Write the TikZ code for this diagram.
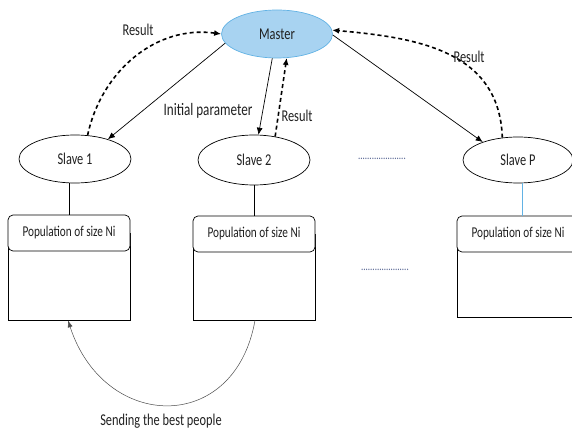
\documentclass[tikz,border=0pt]{standalone}
\usepackage{fontspec}
\setmainfont{Carlito}[FakeStretch=0.75]
\usetikzlibrary{arrows.meta,shapes.geometric}
\definecolor{masterfill}{HTML}{A8D3F1}
\definecolor{masterdraw}{HTML}{62B2E4}
\definecolor{txt}{HTML}{202020}
\definecolor{dotc}{HTML}{4A5A8A}
\begin{document}
\begin{tikzpicture}[x=1pt,y=-1pt,
  every node/.style={text=txt},
  slavenode/.style={ellipse,draw,line width=0.7pt,minimum width=112pt,minimum height=48pt,inner sep=0pt,font=\fontsize{16.5}{18}\selectfont},
  headnode/.style={rectangle,rounded corners=5pt,draw,fill=white,line width=0.7pt,minimum width=122pt,minimum height=36pt,inner sep=0pt,font=\fontsize{15}{17}\selectfont},
  bodynode/.style={rectangle,draw,line width=0.7pt,minimum width=122pt,inner sep=0pt},
  lbl/.style={font=\fontsize{16.5}{18}\selectfont,inner sep=1pt},
  dotnode/.style={font=\fontsize{12}{14}\selectfont,text=dotc,inner sep=0pt},
  solidarrow/.style={-{Latex[length=7pt,width=6pt]},line width=0.7pt},
  dasharrow/.style={-{Latex[length=7pt,width=6pt]},line width=1.6pt,dash pattern=on 4pt off 3pt},
  thinarrow/.style={-{Latex[length=7pt,width=5pt]},line width=0.5pt,draw=black!70}]
\useasboundingbox (0,0) rectangle (572,430);
\clip (0,0) rectangle (572,430);

% master and slaves
\node[slavenode,fill=masterfill,draw=masterdraw,minimum width=111pt,minimum height=48pt] (m) at (277,34) {Master};
\node[slavenode] (s1) at (75,159) {Slave 1};
\node[slavenode,minimum height=50pt] (s2) at (254,160) {Slave 2};
\node[slavenode,minimum width=110pt,minimum height=46pt] (sp) at (518,160) {Slave P};

% population boxes
\node[bodynode,minimum height=87pt] (b1) at (69,276.5) {};
\node[headnode] (h1) at (69,233) {Population of size Ni};
\node[bodynode,minimum height=86pt] (b2) at (254,277) {};
\node[headnode] (h2) at (254,234) {Population of size Ni};
\node[bodynode,minimum height=83pt] (b3) at (518,275.5) {};
\node[headnode] (h3) at (518,234) {Population of size Ni};

% connections slave - box
\draw[line width=0.7pt] (h1.north) -- (s1.south -| h1.north);
\draw[line width=0.7pt] (h2.north) -- (s2.south -| h2.north);
\draw[line width=0.7pt,draw=masterdraw] ([xshift=4pt]h3.north) -- ([xshift=4pt]sp.south -| h3.north);

% dots
\node[dotnode] (d1) at (382,159) {.....................};
\node[dotnode] (d2) at (385,270) {.....................};

% arrows master -> slaves
\draw[solidarrow] (m.190) -- (s1.31);
\draw[solidarrow] (m.259) -- (s2.80);
\draw[solidarrow] (m.359) -- (sp.153);

% result arrows
\draw[dasharrow] (s1.62) to[out=78,in=172,looseness=1.0] (m.180);
\draw[dasharrow] (s2.48) -- (m.292);
\draw[dasharrow] (sp.125) to[out=92,in=-5,looseness=1.1] (m.4);

% bottom arrow
\draw[thinarrow] ([xshift=1pt]b2.south) to[out=-100,in=-72,looseness=1.6] ([xshift=-1pt]b1.south);

% labels
\node[lbl] (r1) at (138,30) {Result};
\node[lbl,font=\fontsize{17.5}{19}\selectfont] (ip) at (208,111) {Initial parameter};
\node[lbl] (r2) at (297,116) {Result};
\node[lbl] (r3) at (469,57) {Result};
\node[lbl] (sb) at (161,421) {Sending the best people};
\end{tikzpicture}
\end{document}
